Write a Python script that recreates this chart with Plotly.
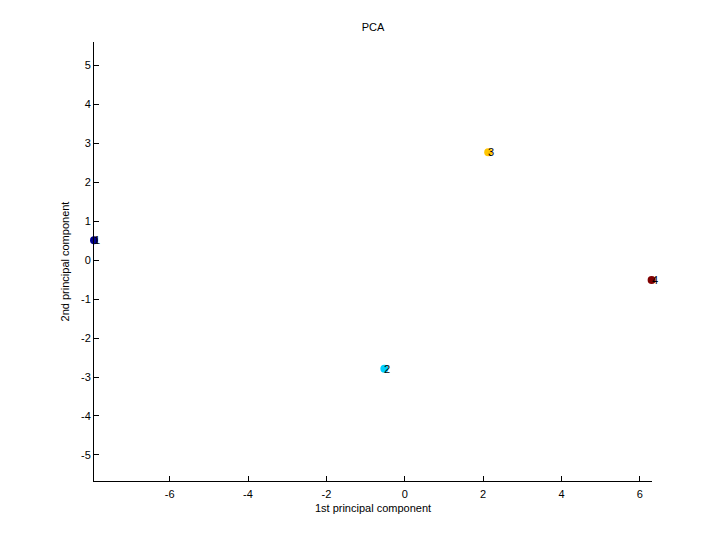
import plotly.graph_objects as go

labels = ["1", "2", "3", "4"]
pc1 = [-7.93, -0.52, 2.13, 6.30]
pc2 = [0.51, -2.79, 2.77, -0.51]
colors = ["#00008F", "#00CFFF", "#FFC600", "#800000"]

x_range = [-7.93, 6.31]
y_range = [-5.67, 5.6]
x_ticks = [-6, -4, -2, 0, 2, 4, 6]
y_ticks = [-5, -4, -3, -2, -1, 0, 1, 2, 3, 4, 5]
x_ticktext = [str(v) for v in x_ticks]
y_ticktext = [str(v) for v in y_ticks]

font = dict(family="Liberation Sans, Arial, sans-serif", size=11, color="black")

fig = go.Figure()
fig.add_trace(go.Scatter(
    x=pc1, y=pc2, mode="markers",
    marker=dict(size=8, color=colors, line=dict(width=0)),
    cliponaxis=False, showlegend=False, hoverinfo="skip",
))
for lab, xv, yv in zip(labels, pc1, pc2):
    fig.add_annotation(x=xv, y=yv, text=lab, showarrow=False,
                       xanchor="left", yanchor="middle", xshift=-2,
                       font=font)

fig.update_layout(
    width=720, height=540,
    margin=dict(l=86, r=76, t=34, b=67, autoexpand=False),
    paper_bgcolor="white", plot_bgcolor="white",
    font=font,
    title=dict(text="PCA", x=0.5, xref="paper", xanchor="center",
               y=1, yref="paper", yanchor="bottom", pad=dict(b=11),
               font=font),
    xaxis=dict(range=x_range, tickvals=x_ticks, ticktext=x_ticktext,
               ticks="inside", ticklen=5,
               tickcolor="black", showline=True, linecolor="black", linewidth=1,
               showgrid=False, zeroline=False, mirror=False, automargin=False,
               ticklabelstandoff=3,
               title=dict(text="1st principal component", font=font, standoff=5)),
    yaxis=dict(range=y_range, tickvals=y_ticks, ticktext=y_ticktext,
               ticks="inside", ticklen=5,
               tickcolor="black", showline=True, linecolor="black", linewidth=1,
               showgrid=False, zeroline=False, mirror=False, automargin=False,
               title=dict(text="2nd principal component", font=font, standoff=9)),
)

fig.write_html("out.html")
